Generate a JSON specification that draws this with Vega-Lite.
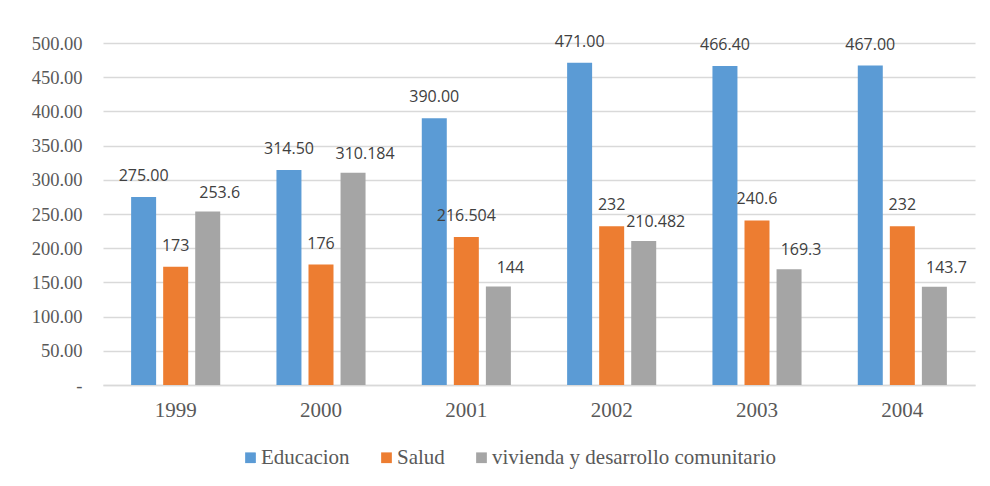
{
  "$schema": "https://vega.github.io/schema/vega-lite/v6.json",
  "width": 872,
  "height": 342,
  "autosize": {"type": "none"},
  "padding": {"left": 103, "top": 43, "right": 15, "bottom": 101},
  "background": "white",
  "config": {"view": {"stroke": null}},
  "data": {
    "values": [
      {"year": "1999", "serie": "Educacion", "value": 275.0, "label": "275.00"},
      {"year": "1999", "serie": "Salud", "value": 173, "label": "173"},
      {"year": "1999", "serie": "vivienda y desarrollo comunitario", "value": 253.6, "label": "253.6"},
      {"year": "2000", "serie": "Educacion", "value": 314.5, "label": "314.50"},
      {"year": "2000", "serie": "Salud", "value": 176, "label": "176"},
      {"year": "2000", "serie": "vivienda y desarrollo comunitario", "value": 310.184, "label": "310.184"},
      {"year": "2001", "serie": "Educacion", "value": 390.0, "label": "390.00"},
      {"year": "2001", "serie": "Salud", "value": 216.504, "label": "216.504"},
      {"year": "2001", "serie": "vivienda y desarrollo comunitario", "value": 144, "label": "144"},
      {"year": "2002", "serie": "Educacion", "value": 471.0, "label": "471.00"},
      {"year": "2002", "serie": "Salud", "value": 232, "label": "232"},
      {"year": "2002", "serie": "vivienda y desarrollo comunitario", "value": 210.482, "label": "210.482"},
      {"year": "2003", "serie": "Educacion", "value": 466.4, "label": "466.40"},
      {"year": "2003", "serie": "Salud", "value": 240.6, "label": "240.6"},
      {"year": "2003", "serie": "vivienda y desarrollo comunitario", "value": 169.3, "label": "169.3"},
      {"year": "2004", "serie": "Educacion", "value": 467.0, "label": "467.00"},
      {"year": "2004", "serie": "Salud", "value": 232, "label": "232"},
      {"year": "2004", "serie": "vivienda y desarrollo comunitario", "value": 143.7, "label": "143.7"}
    ]
  },
  "encoding": {
    "x": {
      "field": "year", "type": "nominal",
      "scale": {"paddingInner": 0.387, "paddingOuter": 0.1935},
      "axis": {
        "title": null, "labelAngle": 0, "ticks": false,
        "domainColor": "#d9d9d9", "domainWidth": 1.5,
        "labelFont": "Liberation Serif", "labelFontSize": 21, "labelColor": "#595959",
        "labelPadding": 14
      }
    },
    "xOffset": {
      "field": "serie", "type": "nominal",
      "sort": ["Educacion", "Salud", "vivienda y desarrollo comunitario"],
      "scale": {"paddingInner": 0.22, "paddingOuter": 0}
    },
    "y": {
      "field": "value", "type": "quantitative",
      "scale": {"domain": [0, 500], "nice": false},
      "axis": {
        "title": null, "values": [0, 50, 100, 150, 200, 250, 300, 350, 400, 450, 500],
        "labelExpr": "datum.value == 0 ? '-\u2007' : format(datum.value, '.2f')",
        "domain": false, "ticks": false,
        "gridColor": "#d9d9d9", "gridWidth": 1.5,
        "labelFont": "Liberation Serif", "labelFontSize": 18.5, "labelColor": "#595959",
        "labelPadding": 21
      }
    }
  },
  "layer": [
    {
      "mark": {"type": "bar"},
      "encoding": {
        "color": {
          "field": "serie", "type": "nominal",
          "sort": ["Educacion", "Salud", "vivienda y desarrollo comunitario"],
          "scale": {
            "domain": ["Educacion", "Salud", "vivienda y desarrollo comunitario"],
            "range": ["#5B9BD5", "#ED7D31", "#A5A5A5"]
          },
          "legend": {
            "title": null, "orient": "none", "direction": "horizontal",
            "legendX": 137, "legendY": 404,
            "symbolType": "square", "symbolSize": 115, "symbolStrokeWidth": 0,
            "labelFont": "Liberation Serif", "labelFontSize": 21, "labelColor": "#595959",
            "labelOffset": 0, "columnPadding": 26, "labelLimit": 400
          }
        }
      }
    },
    {
      "transform": [{"filter": "datum.serie != 'vivienda y desarrollo comunitario'"}],
      "mark": {"type": "text", "baseline": "alphabetic", "dy": -16, "font": "Open Sans", "fontSize": 16, "color": "#404040"},
      "encoding": {
        "text": {"field": "label", "type": "nominal"}
      }
    },
    {
      "transform": [{"filter": "datum.serie == 'vivienda y desarrollo comunitario'"}],
      "mark": {"type": "text", "baseline": "alphabetic", "dy": -14, "dx": 12, "font": "Open Sans", "fontSize": 16, "color": "#404040"},
      "encoding": {
        "text": {"field": "label", "type": "nominal"}
      }
    }
  ]
}
